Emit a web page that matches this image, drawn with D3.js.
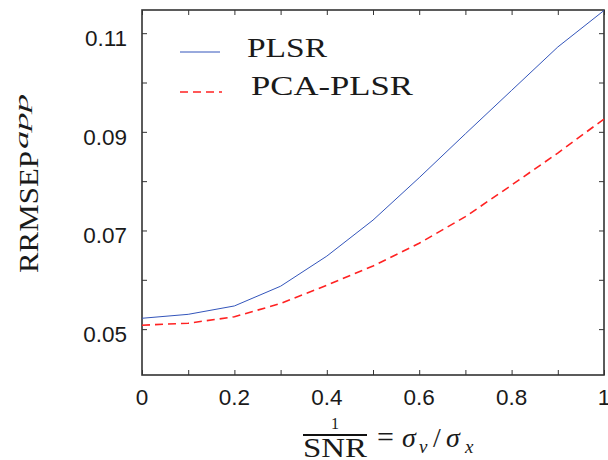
<!DOCTYPE html>
<html>
<head>
<meta charset="utf-8">
<script src="https://cdn.jsdelivr.net/npm/d3@7"></script>
<style>
  body { margin: 0; background: #fff; }
  text { fill: #1a1a1a; }
</style>
</head>
<body>
<div id="main"></div>
<script>
const ctx = {
    WIDTH: 608,
    HEIGHT: 460,
    left: 142, right: 604, top: 10, bottom: 375,
};

// values
const snrInv = [0, 0.1, 0.2, 0.3, 0.4, 0.5, 0.6, 0.7, 0.8, 0.9, 1.0];
const plsr = [0.0522, 0.0530, 0.0547, 0.0587, 0.0648, 0.0721, 0.0807, 0.0896, 0.0984, 0.1072, 0.1146];
const pcaPlsr = [0.0508, 0.0512, 0.0525, 0.0552, 0.0589, 0.0628, 0.0674, 0.0728, 0.0792, 0.0857, 0.0926];
const xTicks = [0, 0.2, 0.4, 0.6, 0.8, 1];
const yTicks = [0.05, 0.07, 0.09, 0.11];
const seriesNames = ["PLSR", "PCA-PLSR"];

const svg = d3.select("#main").append("svg")
    .attr("width", ctx.WIDTH).attr("height", ctx.HEIGHT);

const x = d3.scaleLinear().domain([0, 1]).range([ctx.left, ctx.right]);
const y = d3.scaleLinear().domain([0.0407, 0.1147]).range([ctx.bottom, ctx.top]);

const minorX = d3.range(0, 11).map(i => i / 10);
const minorY = d3.range(5, 12).map(i => i / 100);

// inward ticks on all four sides
function tickAxis(axisFn, scale, vals, transform) {
    const g = svg.append("g").attr("transform", transform)
        .call(axisFn(scale).tickValues(vals).tickSize(-5).tickFormat(""));
    g.select(".domain").remove();
    g.selectAll(".tick line").attr("stroke", "#333").attr("stroke-width", 1);
    return g;
}
tickAxis(d3.axisBottom, x, minorX, `translate(0,${ctx.bottom})`);
tickAxis(d3.axisTop, x, minorX, `translate(0,${ctx.top})`);
tickAxis(d3.axisLeft, y, minorY, `translate(${ctx.left},0)`);
tickAxis(d3.axisRight, y, minorY, `translate(${ctx.right},0)`);

// tick labels
const sans = "'Liberation Sans', Arial, sans-serif";
svg.append("g").selectAll("text").data(xTicks).enter().append("text")
    .attr("x", d => x(d)).attr("y", 405)
    .attr("text-anchor", "middle")
    .style("font", `22.5px ${sans}`)
    .text(d => d === 0 || d === 1 ? d3.format("d")(d) : d3.format(".1f")(d));
svg.append("g").selectAll("text").data(yTicks).enter().append("text")
    .attr("x", 127).attr("y", d => y(d) + 13)
    .attr("text-anchor", "end")
    .style("font", `22.5px ${sans}`)
    .text(d => d3.format(".2f")(d));

// frame
svg.append("rect")
    .attr("x", ctx.left).attr("y", ctx.top)
    .attr("width", ctx.right - ctx.left).attr("height", ctx.bottom - ctx.top)
    .attr("fill", "none").attr("stroke", "#333").attr("stroke-width", 1.6);

const line = d3.line().x((d, i) => x(snrInv[i])).y(d => y(d));

svg.append("path").datum(plsr)
    .attr("d", line).attr("fill", "none")
    .attr("stroke", "#3355bb").attr("stroke-width", 1);
svg.append("path").datum(pcaPlsr)
    .attr("d", line).attr("fill", "none")
    .attr("stroke", "#ff2222").attr("stroke-width", 1.6)
    .attr("stroke-dasharray", "8,5");

// legend
const serif = "'Liberation Serif', 'Times New Roman', serif";
svg.append("line").attr("x1", 180).attr("x2", 220).attr("y1", 52).attr("y2", 52)
    .attr("stroke", "#3355bb").attr("stroke-width", 1);
svg.append("line").attr("x1", 180).attr("x2", 222).attr("y1", 92).attr("y2", 92)
    .attr("stroke", "#ff2222").attr("stroke-width", 1.6).attr("stroke-dasharray", "8,5");
svg.append("text").attr("x", 247).attr("y", 57)
    .attr("textLength", 80).attr("lengthAdjust", "spacingAndGlyphs")
    .style("font", `27px ${serif}`).text(seriesNames[0]);
svg.append("text").attr("x", 251).attr("y", 95)
    .attr("textLength", 162).attr("lengthAdjust", "spacingAndGlyphs")
    .style("font", `27px ${serif}`).text(seriesNames[1]);

// y label
const yl = svg.append("g").attr("transform", "translate(38,273) rotate(-90)");
yl.append("text").attr("x", 0).attr("y", 0)
    .attr("textLength", 122).attr("lengthAdjust", "spacingAndGlyphs")
    .style("font", `27px ${serif}`).text("RRMSEP");
yl.append("text").attr("x", 124).attr("y", -10)
    .attr("textLength", 55).attr("lengthAdjust", "spacingAndGlyphs")
    .style("font", `italic 19px ${serif}`).text("app");

// x label: 1/SNR = σv/σx
const xl = svg.append("g");
xl.append("text").attr("x", 335).attr("y", 429).attr("text-anchor", "middle")
    .style("font", `16px ${serif}`).text("1");
xl.append("line").attr("x1", 303).attr("x2", 367).attr("y1", 435).attr("y2", 435)
    .attr("stroke", "#111").attr("stroke-width", 2);
xl.append("text").attr("x", 303).attr("y", 457)
    .attr("textLength", 64).attr("lengthAdjust", "spacingAndGlyphs")
    .style("font", `28px ${serif}`).text("SNR");
xl.append("text").attr("x", 377).attr("y", 447)
    .style("font", `30px ${serif}`).text("=");
xl.append("text").attr("x", 402).attr("y", 447)
    .style("font", `italic 28px ${serif}`).text("σ");
xl.append("text").attr("x", 419).attr("y", 453)
    .style("font", `italic 19px ${serif}`).text("v");
xl.append("text").attr("x", 433).attr("y", 447)
    .style("font", `28px ${serif}`).text("/");
xl.append("text").attr("x", 446).attr("y", 447)
    .style("font", `italic 28px ${serif}`).text("σ");
xl.append("text").attr("x", 465).attr("y", 453)
    .style("font", `italic 19px ${serif}`).text("x");
</script>
</body>
</html>
